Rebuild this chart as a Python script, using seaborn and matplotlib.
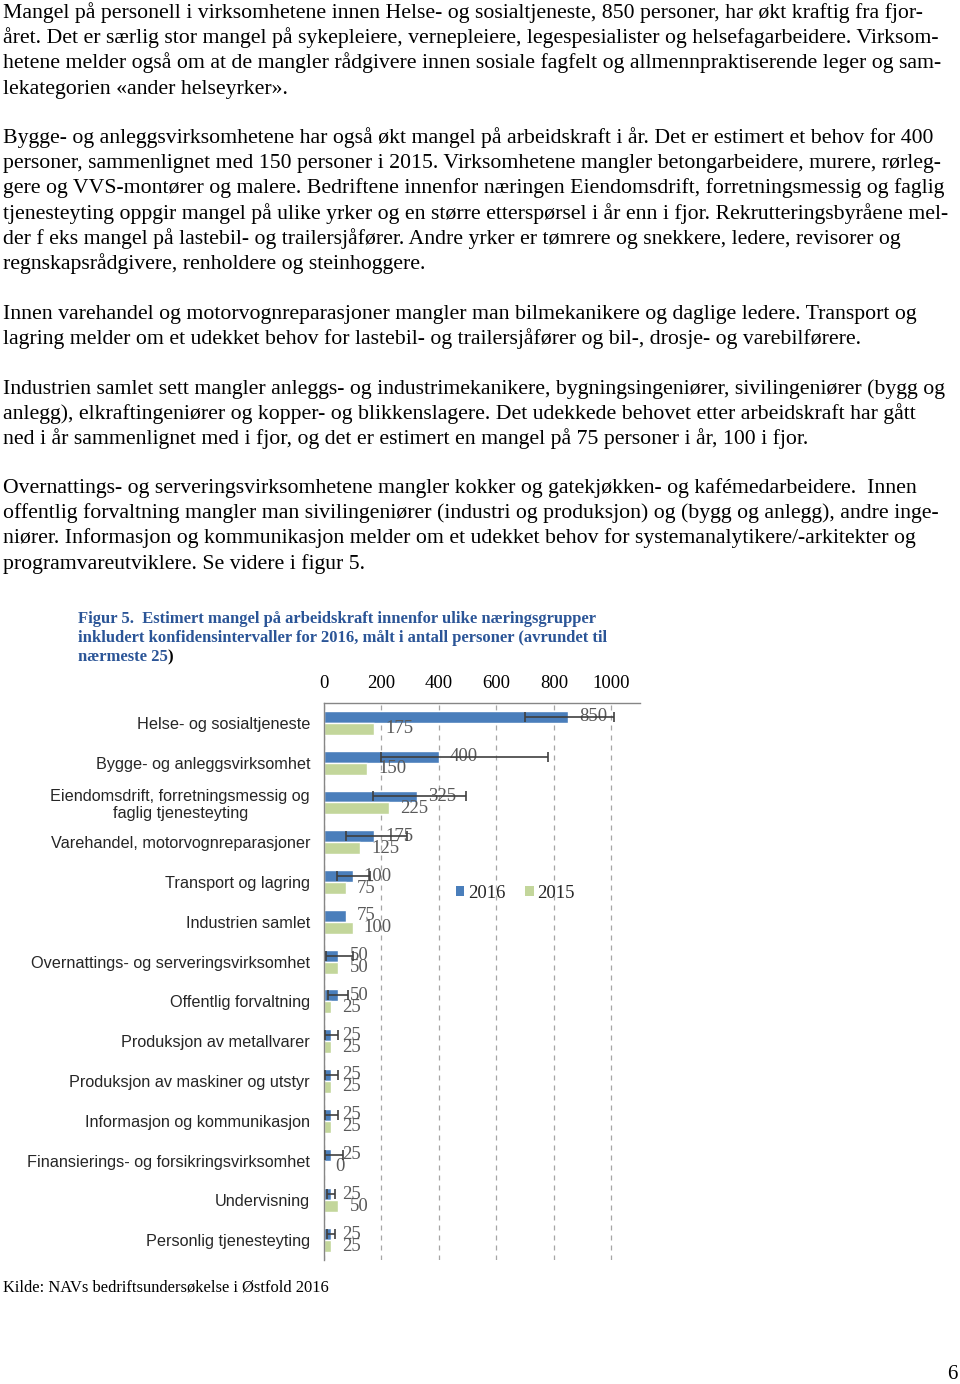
import matplotlib
matplotlib.use("Agg")
import matplotlib.pyplot as plt
import seaborn as sns
import pandas as pd
import numpy as np
from matplotlib.patches import Patch

# ---------------- data ----------------
categories = [
    "Helse- og sosialtjeneste",
    "Bygge- og anleggsvirksomhet",
    "Eiendomsdrift, forretningsmessig og\nfaglig tjenesteyting",
    "Varehandel, motorvognreparasjoner",
    "Transport og lagring",
    "Industrien samlet",
    "Overnattings- og serveringsvirksomhet",
    "Offentlig forvaltning",
    "Produksjon av metallvarer",
    "Produksjon av maskiner og utstyr",
    "Informasjon og kommunikasjon",
    "Finansierings- og forsikringsvirksomhet",
    "Undervisning",
    "Personlig tjenesteyting",
]
values_2016 = [850, 400, 325, 175, 100, 75, 50, 50, 25, 25, 25, 25, 25, 25]
values_2015 = [175, 150, 225, 125, 75, 100, 50, 25, 25, 25, 25, 0, 50, 25]
ci_low_2016 = [700, 200, 170, 75, 45, np.nan, 8, 15, 5, 5, 5, 5, 10, 10]
ci_high_2016 = [1010, 780, 495, 290, 160, np.nan, 100, 85, 50, 50, 50, 65, 40, 40]
years = ["2016", "2015"]
x_ticks = [0, 200, 400, 600, 800, 1000]

paragraphs = [
    [
        "Mangel på personell i virksomhetene innen Helse- og sosialtjeneste, 850 personer, har økt kraftig fra fjor-",
        "året. Det er særlig stor mangel på sykepleiere, vernepleiere, legespesialister og helsefagarbeidere. Virksom-",
        "hetene melder også om at de mangler rådgivere innen sosiale fagfelt og allmennpraktiserende leger og sam-",
        "lekategorien «ander helseyrker».",
    ],
    [
        "Bygge- og anleggsvirksomhetene har også økt mangel på arbeidskraft i år. Det er estimert et behov for 400",
        "personer, sammenlignet med 150 personer i 2015. Virksomhetene mangler betongarbeidere, murere, rørleg-",
        "gere og VVS-montører og malere. Bedriftene innenfor næringen Eiendomsdrift, forretningsmessig og faglig",
        "tjenesteyting oppgir mangel på ulike yrker og en større etterspørsel i år enn i fjor. Rekrutteringsbyråene mel-",
        "der f eks mangel på lastebil- og trailersjåfører. Andre yrker er tømrere og snekkere, ledere, revisorer og",
        "regnskapsrådgivere, renholdere og steinhoggere.",
    ],
    [
        "Innen varehandel og motorvognreparasjoner mangler man bilmekanikere og daglige ledere. Transport og",
        "lagring melder om et udekket behov for lastebil- og trailersjåfører og bil-, drosje- og varebilførere.",
    ],
    [
        "Industrien samlet sett mangler anleggs- og industrimekanikere, bygningsingeniører, sivilingeniører (bygg og",
        "anlegg), elkraftingeniører og kopper- og blikkenslagere. Det udekkede behovet etter arbeidskraft har gått",
        "ned i år sammenlignet med i fjor, og det er estimert en mangel på 75 personer i år, 100 i fjor.",
    ],
    [
        "Overnattings- og serveringsvirksomhetene mangler kokker og gatekjøkken- og kafémedarbeidere.  Innen",
        "offentlig forvaltning mangler man sivilingeniører (industri og produksjon) og (bygg og anlegg), andre inge-",
        "niører. Informasjon og kommunikasjon melder om et udekket behov for systemanalytikere/-arkitekter og",
        "programvareutviklere. Se videre i figur 5.",
    ],
]
paragraph_baselines = [18, 143, 319, 394, 493]
caption_lines = [
    "Figur 5.  Estimert mangel på arbeidskraft innenfor ulike næringsgrupper",
    "inkludert konfidensintervaller for 2016, målt i antall personer (avrundet til",
    "nærmeste 25",
]
source_text = "Kilde: NAVs bedriftsundersøkelse i Østfold 2016"
page_number = "6"

# ---------------- style ----------------
sns.set_style("white")
plt.rcParams["font.family"] = ["Liberation Serif", "DejaVu Serif"]

W, H = 960, 1384
fig = plt.figure(figsize=(W / 100, H / 100), dpi=100)

SERIF = ["Liberation Serif", "DejaVu Serif"]
SANS = ["Liberation Sans", "DejaVu Sans"]

def fx(px):
    return px / W

def fy(py):
    return 1 - py / H

# body text
LINE = 25.2
for para, base in zip(paragraphs, paragraph_baselines):
    for i, line in enumerate(para):
        fig.text(fx(3), fy(base + i * LINE), line, family=SERIF, fontsize=15.7,
                 va="baseline", ha="left", color="black")

# caption
cap_color = "#2B5597"
cap_base = 623
for i, line in enumerate(caption_lines):
    t = fig.text(fx(78), fy(cap_base + i * 19), line, family=SERIF, fontsize=12.0,
                 fontweight="bold", va="baseline", ha="left", color=cap_color)
last_caption = t

# ---------------- chart ----------------
ax = fig.add_axes([fx(324), fy(1260), fx(640) - fx(324), fy(703) - fy(1260)])

df = pd.DataFrame({
    "Næring": categories * 2,
    "År": [years[0]] * len(categories) + [years[1]] * len(categories),
    "Antall": values_2016 + values_2015,
})
blue = "#4A7EBB"
green = "#C3D69B"
sns.barplot(data=df, y="Næring", x="Antall", hue="År", hue_order=years,
            order=categories, palette=[blue, green], width=0.6, orient="h",
            saturation=1, errorbar=None, legend=False, ax=ax)

ax.set_xlim(0, 1100)
ax.set_ylim(len(categories) - 0.5, -0.5)

# error bars for 2016
cont16 = ax.containers[0]
ys, xs, lo, hi = [], [], [], []
for bar, v, l, h in zip(cont16, values_2016, ci_low_2016, ci_high_2016):
    if np.isnan(l):
        continue
    ys.append(bar.get_y() + bar.get_height() / 2)
    xs.append(v)
    lo.append(v - l)
    hi.append(h - v)
ax.errorbar(xs, ys, xerr=[lo, hi], fmt="none", ecolor="#3F3F3F",
            elinewidth=1.2, capsize=3.5, capthick=1.2, zorder=4)

# value labels
for cont, vals in zip(ax.containers[:2], [values_2016, values_2015]):
    ax.bar_label(cont, labels=[str(v) for v in vals], padding=8,
                 fontsize=13.5, color="#595959", family=SERIF)

# axes styling
ax.set_xlabel("")
ax.set_ylabel("")
ax.xaxis.tick_top()
ax.set_xticks(x_ticks)
ax.set_xticklabels([str(t) for t in x_ticks], family=SERIF, fontsize=13.5)
ax.tick_params(axis="x", length=0, pad=8, colors="black")
ax.xaxis.grid(True, linestyle=(0, (4, 4)), color="#A6A6A6", linewidth=0.9)
ax.set_axisbelow(True)

ax.set_yticks(range(len(categories)))
ax.set_yticklabels(categories, family=SANS, fontsize=11.7)
for lbl in ax.get_yticklabels():
    lbl.set_multialignment("center")
ax.tick_params(axis="y", length=0, pad=10)
ax.set_yticks(np.arange(-0.5, len(categories) + 0.5, 1), minor=True)
ax.tick_params(axis="y", which="minor", length=4, color="#868686", width=0.9)

for side in ["right", "bottom"]:
    ax.spines[side].set_visible(False)
for side in ["left", "top"]:
    ax.spines[side].set_color("#868686")
    ax.spines[side].set_linewidth(1.0)

handles = [Patch(facecolor=blue, edgecolor="none"), Patch(facecolor=green, edgecolor="none")]
ax.legend(handles, years, loc="center left", bbox_to_anchor=(fx(439), fy(893)),
          bbox_transform=fig.transFigure, ncol=2, frameon=False,
          handlelength=0.45, handleheight=0.45, handletextpad=0.2,
          columnspacing=1.05, prop={"family": SERIF, "size": 13.5})

# closing parenthesis of caption in black
fig.canvas.draw()
renderer = fig.canvas.get_renderer()
bb = last_caption.get_window_extent(renderer)
fig.text(bb.x1 / W, fy(cap_base + 2 * 19), ")", family=SERIF, fontsize=12.0,
         fontweight="bold", va="baseline", ha="left", color="black")

fig.text(fx(3), fy(1291), source_text, family=SERIF, fontsize=11.9,
         va="baseline", ha="left", color="black")
fig.text(fx(957), fy(1379), page_number, family=SERIF, fontsize=15,
         va="baseline", ha="right", color="black")

fig.savefig("out.png", dpi=100)
